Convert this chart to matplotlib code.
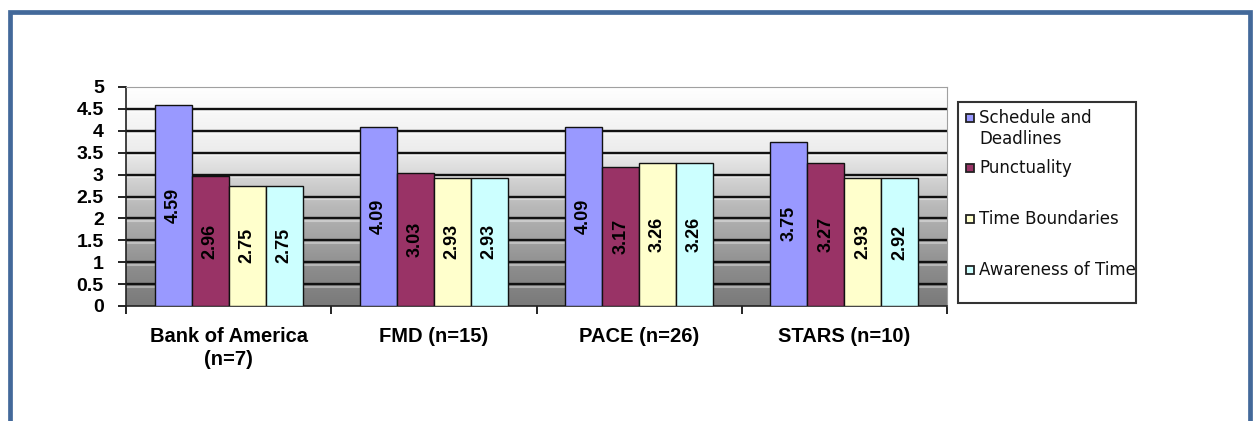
import matplotlib
matplotlib.use('Agg')
import matplotlib.pyplot as plt
import matplotlib.transforms as mtransforms
import numpy as np
from matplotlib.colors import LinearSegmentedColormap
from matplotlib.patches import Rectangle

# Data
groups = ['Bank of America\n(n=7)', 'FMD (n=15)', 'PACE (n=26)', 'STARS (n=10)']
series_names = ['Schedule and\nDeadlines', 'Punctuality', 'Time Boundaries', 'Awareness of Time']
schedule = [4.59, 4.09, 4.09, 3.75]
punctuality = [2.96, 3.03, 3.17, 3.27]
time_boundaries = [2.75, 2.93, 3.26, 2.93]
awareness = [2.75, 2.93, 3.26, 2.92]
yticks = [0, 0.5, 1, 1.5, 2, 2.5, 3, 3.5, 4, 4.5, 5]

colors = ['#9999FF', '#993366', '#FFFFCC', '#CCFFFF']
arial = ['Liberation Sans', 'DejaVu Sans']

W, H = 1255, 421
fig = plt.figure(figsize=(W / 100, H / 100), dpi=100)
fig.patch.set_facecolor('white')

# outer blue frame (bottom edge runs off the picture)
fig.patches.append(Rectangle((9.5 / W, -0.1), (1250 - 9.5) / W, 1.1 - 12 / H,
                             transform=fig.transFigure, fill=False,
                             edgecolor='#43699A', linewidth=3.4))

ax = fig.add_axes([126 / W, 1 - 306 / H, (947 - 126) / W, (306 - 87) / H])

# gradient plot area background
grad_cmap = LinearSegmentedColormap.from_list(
    'bg', [(0.0, '#7a7a7a'), (0.15, '#8a8a8a'), (0.45, '#b8b8b8'),
           (0.7, '#ececec'), (1.0, '#ffffff')])
ax.imshow(np.linspace(0, 1, 256).reshape(-1, 1), aspect='auto', cmap=grad_cmap,
          extent=[0, len(groups), 0, 5], origin='lower', zorder=0)

# gridlines, each with a faint light band just below (Excel 3D look)
below = mtransforms.offset_copy(ax.get_yaxis_transform(), fig=fig, y=-2, units='points')
for v in yticks[1:-1]:
    ax.plot([0, 1], [v, v], transform=below, color='white', alpha=0.35,
            linewidth=1.5, zorder=1)
    ax.axhline(v, color='#111111', linewidth=1.7, zorder=1.5)

x = np.arange(len(groups)) + 0.5
bw = 0.18
all_series = [schedule, punctuality, time_boundaries, awareness]
for i, vals in enumerate(all_series):
    pos = x + (i - 1.5) * bw
    bars = ax.bar(pos, vals, width=bw, color=colors[i], edgecolor='#111111',
                  linewidth=1.0, zorder=3)
    for b, v in zip(bars, vals):
        ax.text(b.get_x() + b.get_width() / 2, v / 2, f'{v:.2f}', rotation=90,
                ha='center', va='center', fontsize=13, fontweight='bold',
                family=arial, color='black', zorder=4)

ax.set_xlim(0, len(groups))
ax.set_ylim(0, 5)
ax.set_yticks(yticks)
ax.set_yticklabels([f'{t:g}' for t in yticks], fontsize=14, fontweight='bold',
                   family=arial)
ax.set_xticks(x)
ax.set_xticklabels(groups, fontsize=14.5, fontweight='bold', family=arial,
                   linespacing=1.3, va='top')
ax.set_xticks(np.arange(len(groups) + 1), minor=True)
ax.tick_params(axis='x', which='major', length=0, pad=15)
ax.tick_params(axis='x', which='minor', length=6, width=1.2, direction='out')
ax.tick_params(axis='y', length=6, width=1.2, direction='out', pad=10)

for side in ['top', 'right']:
    ax.spines[side].set_color('#a0a0a0')
    ax.spines[side].set_linewidth(0.8)
for side in ['left', 'bottom']:
    ax.spines[side].set_color('#222222')
    ax.spines[side].set_linewidth(1.2)

# legend box drawn by hand to follow the original spacing
fig.patches.append(Rectangle((958 / W, 1 - 303 / H), (1136 - 958) / W, (303 - 102) / H,
                             transform=fig.transFigure, facecolor='white',
                             edgecolor='#333333', linewidth=1.5))
legend_y = [118, 168, 219, 270]
for name, col, yy in zip(series_names, colors, legend_y):
    fig.patches.append(Rectangle((966 / W, 1 - (yy + 4) / H), 8 / W, 8 / H,
                                 transform=fig.transFigure, facecolor=col,
                                 edgecolor='#222222', linewidth=1.3))
    fig.text(979 / W, 1 - (yy - 9) / H, name, fontsize=12, family='DejaVu Sans',
             va='top', ha='left', linespacing=1.25, color='#111111')

fig.savefig('out.png', dpi=100)
